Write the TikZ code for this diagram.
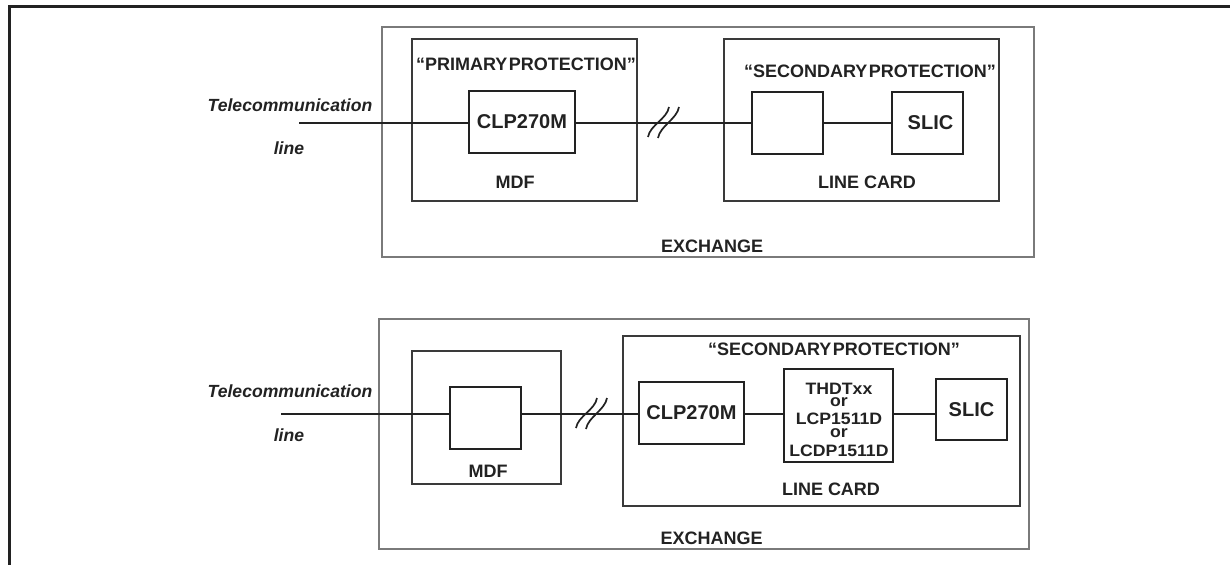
\documentclass[tikz,border=0pt]{standalone}
\usepackage{fontspec}
\setmainfont{Liberation Sans}
\newfontfamily\thdtfont{Liberation Sans}[FakeStretch=1.07]
\definecolor{ink}{HTML}{222222}
\definecolor{gbox}{HTML}{7A7A7A}
\definecolor{dbox}{HTML}{3A3A3A}
\tikzset{
  lbl/.style={font=\bfseries\fontsize{18}{18}\selectfont, text=ink, inner sep=0, anchor=base},
  tel/.style={font=\bfseries\itshape\fontsize{17.6}{18}\selectfont, text=ink, inner sep=0, anchor=base},
  thl/.style={font=\thdtfont\bfseries\fontsize{16.5}{12.4}\selectfont, text=ink, inner sep=0, align=center},
  exch/.style={draw=gbox, line width=1.5, inner sep=0},
  grp/.style={draw=dbox, line width=1.5, inner sep=0},
  unit/.style={draw=ink, line width=2, inner sep=0, font=\bfseries\fontsize{20}{20}\selectfont, text=ink},
  unitb/.style={unit, line width=2.6},
  wire/.style={draw=ink, line width=1.4},
  brk/.pic={
    \draw[ink, line width=1.7] (-15,14) .. controls (-13,2) and (4,-4) .. (6,-16);
    \draw[ink, line width=1.7] (-5,15) .. controls (-3,3) and (14,-4) .. (16,-16);
  }
}
\begin{document}
\begin{tikzpicture}[x=1pt,y=-1pt]
\fill[white] (0,0) rectangle (1230,565);
\useasboundingbox (0,0) rectangle (1230,565);
% frame
\draw[ink, line width=3] (1230,6.5) -- (9.5,6.5) -- (9.5,565);

% ---------- top diagram ----------
\node[exch, minimum width=652, minimum height=230] (exch1) at (708,142) {};
\node[grp, minimum width=225, minimum height=162] (mdf1) at (524.5,120) {};
\node[grp, minimum width=275, minimum height=162] (lc1) at (861.5,120) {};
\node[unit, minimum width=106, minimum height=62] (clp1) at (522,122) {CLP270M};
\node[unit, minimum width=71, minimum height=62] (sp1) at (787.5,123) {};
\node[unit, minimum width=71, minimum height=62] (slic1) at (927.5,123) {\hspace*{6pt}SLIC};

\coordinate (tl1) at (299,123);
\coordinate (br1) at (663,123);
\draw[wire] (tl1) -- (clp1.west |- tl1);
\draw[wire] (clp1.east |- tl1) -- (sp1.west |- tl1);
\draw[wire] (sp1.east |- tl1) -- (slic1.west |- tl1);
\pic at (br1) {brk};

\node[tel] (t1a) at (290,111) {Telecommunication};
\node[tel] (t1b) at (289,154) {line};
\node[lbl] (pp1) at (526,70) {“PRIMARY\kern1.5pt PROTECTION”};
\node[lbl] (mdft1) at (515,188) {MDF};
\node[lbl] (sp1t) at (870,77) {“SECONDARY\kern1.5pt PROTECTION”};
\node[lbl] (lct1) at (867,188) {LINE CARD};
\node[lbl] (ext1) at (712,252) {EXCHANGE};

% ---------- bottom diagram ----------
\node[exch, minimum width=650, minimum height=230] (exch2) at (704,434) {};
\node[grp, minimum width=149, minimum height=133] (mdf2) at (486.5,417.5) {};
\node[grp, minimum width=397, minimum height=170] (lc2) at (821.5,421) {};
\node[unit, minimum width=71, minimum height=62] (mb2) at (485.5,418) {};
\node[unitb, minimum width=105, minimum height=62] (clp2) at (691.5,413) {CLP270M};
\node[unitb, minimum width=109, minimum height=93] (thdt) at (838.5,415.5) {};
\node[unitb, minimum width=71, minimum height=61] (slic2) at (971.5,409.5) {SLIC};

\node[thl] (tht) at (839,419.7) {THDTxx\\or\\[5.9pt]LCP1511D\\or\\[7pt]LCDP1511D};

\coordinate (tl2) at (281,414);
\coordinate (br2) at (591,414);
\draw[wire] (tl2) -- (mb2.west |- tl2);
\draw[wire] (mb2.east |- tl2) -- (clp2.west |- tl2);
\draw[wire, line width=2.4] (clp2.east |- tl2) -- (thdt.west |- tl2);
\draw[wire] (thdt.east |- tl2) -- (slic2.west |- tl2);
\pic at (br2) {brk};

\node[tel] (t2a) at (290,397) {Telecommunication};
\node[tel] (t2b) at (289,441) {line};
\node[lbl] (sp2t) at (834,355) {“SECONDARY\kern1.5pt PROTECTION”};
\node[lbl] (mdft2) at (488,477) {MDF};
\node[lbl] (lct2) at (831,495) {LINE CARD};
\node[lbl] (ext2) at (711.7,544) {EXCHANGE};
\end{tikzpicture}
\end{document}
